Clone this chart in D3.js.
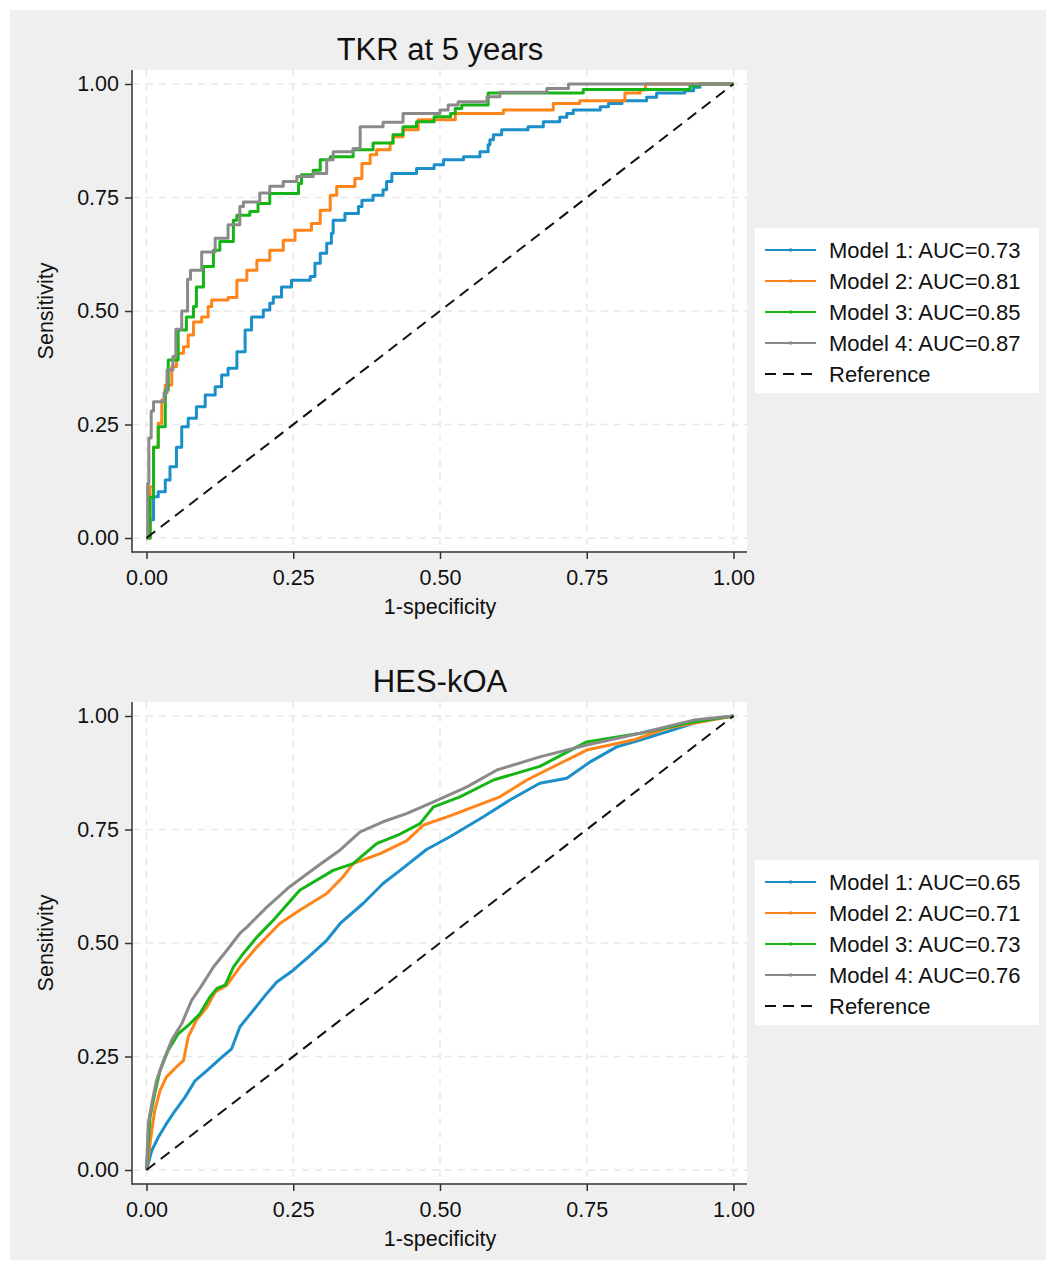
<!DOCTYPE html>
<html>
<head>
<meta charset="utf-8">
<script src="https://cdn.jsdelivr.net/npm/d3@7"></script>
<style>
  body { margin: 0; background: #fff; }
  svg { display: block; font-family: "Liberation Sans", Arial, sans-serif; }
</style>
</head>
<body>
<svg width="1056" height="1269"></svg>
<script>
// ---- data: [1-specificity, sensitivity] ----
const ticks = [0, 0.25, 0.5, 0.75, 1];
const modelNames = ["Model 1", "Model 2", "Model 3", "Model 4"];
const aucTkr = [0.73, 0.81, 0.85, 0.87];
const aucHes = [0.65, 0.71, 0.73, 0.76];

const tkrM1 = [[0,0],[0.006,0.04],[0.012,0.091],[0.02,0.102],[0.032,0.128],[0.04,0.157],[0.051,0.2],[0.06,0.245],[0.071,0.264],[0.085,0.289],[0.1,0.315],[0.117,0.333],[0.128,0.359],[0.139,0.374],[0.154,0.41],[0.168,0.458],[0.179,0.487],[0.199,0.502],[0.21,0.517],[0.216,0.531],[0.23,0.553],[0.247,0.568],[0.279,0.576],[0.287,0.605],[0.296,0.627],[0.307,0.649],[0.315,0.671],[0.318,0.70],[0.338,0.715],[0.361,0.73],[0.367,0.744],[0.386,0.755],[0.403,0.767],[0.409,0.785],[0.418,0.803],[0.46,0.814],[0.49,0.822],[0.506,0.833],[0.54,0.84],[0.568,0.851],[0.582,0.866],[0.585,0.877],[0.591,0.888],[0.605,0.899],[0.65,0.906],[0.676,0.917],[0.704,0.927],[0.716,0.935],[0.727,0.943],[0.773,0.95],[0.787,0.957],[0.81,0.963],[0.852,0.971],[0.869,0.98],[0.917,0.985],[0.932,0.993],[0.943,1],[1,1]];
const tkrM2 = [[0,0],[0.006,0.113],[0.012,0.2],[0.02,0.253],[0.026,0.304],[0.032,0.337],[0.043,0.377],[0.051,0.407],[0.063,0.421],[0.071,0.447],[0.08,0.476],[0.094,0.487],[0.105,0.51],[0.111,0.524],[0.139,0.53],[0.154,0.568],[0.171,0.59],[0.188,0.612],[0.21,0.634],[0.233,0.656],[0.253,0.678],[0.281,0.693],[0.296,0.722],[0.313,0.755],[0.324,0.774],[0.355,0.792],[0.367,0.825],[0.381,0.844],[0.392,0.855],[0.415,0.87],[0.42,0.884],[0.437,0.899],[0.463,0.921],[0.526,0.935],[0.608,0.943],[0.693,0.957],[0.738,0.963],[0.815,0.98],[0.841,0.987],[0.85,1],[1,1]];
const tkrM3 = [[0,0],[0.006,0.09],[0.012,0.2],[0.02,0.245],[0.032,0.326],[0.037,0.392],[0.054,0.458],[0.068,0.487],[0.08,0.51],[0.085,0.553],[0.097,0.598],[0.114,0.634],[0.125,0.653],[0.148,0.70],[0.154,0.711],[0.176,0.719],[0.19,0.737],[0.21,0.759],[0.259,0.781],[0.264,0.80],[0.284,0.81],[0.296,0.833],[0.313,0.84],[0.352,0.855],[0.386,0.87],[0.42,0.888],[0.437,0.906],[0.46,0.917],[0.49,0.928],[0.518,0.935],[0.526,0.946],[0.537,0.954],[0.582,0.98],[0.744,0.988],[0.926,0.996],[0.94,1],[1,1]];
const tkrM4 = [[0,0],[0.002,0.12],[0.004,0.22],[0.008,0.28],[0.012,0.30],[0.03,0.32],[0.035,0.37],[0.045,0.40],[0.05,0.46],[0.06,0.50],[0.07,0.57],[0.075,0.59],[0.094,0.63],[0.117,0.66],[0.139,0.69],[0.159,0.73],[0.165,0.74],[0.193,0.76],[0.21,0.775],[0.233,0.785],[0.256,0.796],[0.284,0.803],[0.307,0.833],[0.318,0.851],[0.352,0.858],[0.364,0.906],[0.403,0.916],[0.437,0.935],[0.5,0.943],[0.514,0.954],[0.531,0.961],[0.58,0.972],[0.602,0.982],[0.682,0.99],[0.719,1],[1,1]];

const hesM1 = [[0,0],[0.009,0.043],[0.02,0.072],[0.034,0.102],[0.049,0.131],[0.066,0.161],[0.083,0.197],[0.103,0.219],[0.125,0.245],[0.145,0.267],[0.159,0.315],[0.182,0.352],[0.205,0.389],[0.222,0.414],[0.25,0.44],[0.279,0.473],[0.307,0.506],[0.33,0.543],[0.369,0.587],[0.403,0.631],[0.432,0.66],[0.477,0.706],[0.517,0.734],[0.574,0.778],[0.619,0.815],[0.67,0.852],[0.716,0.863],[0.756,0.899],[0.801,0.932],[0.841,0.947],[0.886,0.965],[0.932,0.984],[0.971,0.995],[1,1]];
const hesM2 = [[0,0],[0.003,0.028],[0.009,0.087],[0.014,0.131],[0.023,0.175],[0.034,0.205],[0.051,0.227],[0.063,0.241],[0.071,0.293],[0.085,0.33],[0.103,0.359],[0.117,0.392],[0.137,0.407],[0.159,0.447],[0.188,0.491],[0.227,0.543],[0.261,0.572],[0.307,0.609],[0.335,0.646],[0.352,0.675],[0.398,0.697],[0.443,0.725],[0.472,0.76],[0.517,0.78],[0.602,0.822],[0.648,0.859],[0.699,0.892],[0.75,0.925],[0.829,0.947],[0.886,0.973],[0.943,0.987],[1,1]];
const hesM3 = [[0,0],[0.003,0.058],[0.006,0.116],[0.014,0.168],[0.023,0.219],[0.037,0.264],[0.054,0.30],[0.074,0.322],[0.091,0.344],[0.108,0.381],[0.12,0.40],[0.134,0.407],[0.148,0.447],[0.165,0.477],[0.188,0.513],[0.216,0.55],[0.261,0.616],[0.318,0.66],[0.352,0.675],[0.392,0.719],[0.432,0.74],[0.466,0.763],[0.489,0.80],[0.534,0.822],[0.591,0.859],[0.67,0.889],[0.75,0.943],[0.841,0.962],[0.932,0.987],[1,1]];
const hesM4 = [[0,0],[0.003,0.102],[0.009,0.146],[0.017,0.197],[0.029,0.241],[0.043,0.286],[0.06,0.322],[0.077,0.374],[0.091,0.40],[0.114,0.447],[0.137,0.484],[0.159,0.521],[0.171,0.535],[0.205,0.579],[0.244,0.624],[0.29,0.668],[0.33,0.705],[0.364,0.745],[0.403,0.767],[0.443,0.785],[0.489,0.811],[0.546,0.844],[0.597,0.881],[0.67,0.91],[0.75,0.936],[0.841,0.962],[0.932,0.991],[1,1]];

const colors = ["#1b8fc9", "#ff8419", "#16b516", "#8a8a8a"];

const svg = d3.select("svg");

// outer grey frame
svg.append("rect")
  .attr("x", 10).attr("y", 10)
  .attr("width", 1036).attr("height", 1250)
  .attr("fill", "#efefef");

const x = d3.scaleLinear().domain([0, 1]).range([146.5, 733.5]);
const y = d3.scaleLinear().domain([0, 1]).range([538, 84]);
const fmt = d3.format(".2f");

function drawPanel(offsetY, title, series, aucs, curve) {
  const g = svg.append("g").attr("transform", "translate(0," + offsetY + ")");

  // plot region
  g.append("rect")
    .attr("x", 133).attr("y", 70)
    .attr("width", 614).attr("height", 481)
    .attr("fill", "#fff");

  // dashed grid
  g.append("g").selectAll("line.gx").data(ticks).join("line")
    .attr("x1", d => x(d)).attr("x2", d => x(d))
    .attr("y1", 70).attr("y2", 551)
    .attr("stroke", "#e8e8e8").attr("stroke-width", 1.5)
    .attr("stroke-dasharray", "7,6");
  g.append("g").selectAll("line.gy").data(ticks).join("line")
    .attr("x1", 133).attr("x2", 747)
    .attr("y1", d => y(d)).attr("y2", d => y(d))
    .attr("stroke", "#e8e8e8").attr("stroke-width", 1.5)
    .attr("stroke-dasharray", "7,6");

  // curves
  const line = d3.line()
    .x(d => x(d[0]))
    .y(d => y(d[1]))
    .curve(curve);

  series.forEach((s, i) => {
    g.append("path")
      .datum(s)
      .attr("fill", "none")
      .attr("stroke", colors[i])
      .attr("stroke-width", 3)
      .attr("stroke-linejoin", "round")
      .attr("d", line);
  });

  // reference diagonal
  g.append("path")
    .datum([[0, 0], [1, 1]])
    .attr("fill", "none")
    .attr("stroke", "#111")
    .attr("stroke-width", 2)
    .attr("stroke-dasharray", "11,7")
    .attr("d", d3.line().x(d => x(d[0])).y(d => y(d[1])));

  // axes
  const ax = g.append("g")
    .attr("transform", "translate(0,552)")
    .call(d3.axisBottom(x).tickValues(ticks).tickFormat(fmt).tickSize(7).tickSizeOuter(0).tickPadding(11));
  const ay = g.append("g")
    .attr("transform", "translate(132,0)")
    .call(d3.axisLeft(y).tickValues(ticks).tickFormat(fmt).tickSize(7).tickSizeOuter(0).tickPadding(6));

  [ax, ay].forEach(a => {
    a.select(".domain").remove();
    a.selectAll(".tick line").attr("stroke", "#333").attr("stroke-width", 1.5);
    a.selectAll(".tick text")
      .attr("fill", "#111")
      .style("font-size", "21.5px")
      .style("font-family", "'Liberation Sans', Arial, sans-serif");
  });

  g.append("line")
    .attr("x1", 132).attr("x2", 132).attr("y1", 70).attr("y2", 552.75)
    .attr("stroke", "#333").attr("stroke-width", 1.5);
  g.append("line")
    .attr("x1", 132).attr("x2", 747).attr("y1", 552).attr("y2", 552)
    .attr("stroke", "#333").attr("stroke-width", 1.5);

  // titles
  g.append("text")
    .attr("x", 440).attr("y", 60)
    .attr("text-anchor", "middle")
    .attr("fill", "#111")
    .style("font-size", "31px")
    .text(title);

  g.append("text")
    .attr("x", 440).attr("y", 614)
    .attr("text-anchor", "middle")
    .attr("fill", "#111")
    .style("font-size", "21.5px")
    .text("1-specificity");

  g.append("text")
    .attr("transform", "translate(53," + 311 + ") rotate(-90)")
    .attr("text-anchor", "middle")
    .attr("fill", "#111")
    .style("font-size", "21.5px")
    .text("Sensitivity");

  // legend
  const lg = g.append("g");
  lg.append("rect")
    .attr("x", 755).attr("y", 228)
    .attr("width", 284).attr("height", 165)
    .attr("fill", "#fff");

  const entries = modelNames.map((m, i) => ({label: m + ": AUC=" + fmt(aucs[i]), color: colors[i], dash: null}))
    .concat([{label: "Reference", color: "#111", dash: "11,7"}]);

  entries.forEach((e, i) => {
    const by = 257.5 + i * 31;
    lg.append("line")
      .attr("x1", 765).attr("x2", 816)
      .attr("y1", by - 7.5).attr("y2", by - 7.5)
      .attr("stroke", e.color)
      .attr("stroke-width", 2)
      .attr("stroke-dasharray", e.dash);
    if (!e.dash) {
      lg.append("rect")
        .attr("x", 789).attr("y", by - 9)
        .attr("width", 3).attr("height", 3)
        .attr("fill", e.color);
    }
    lg.append("text")
      .attr("x", 829).attr("y", by)
      .attr("fill", "#111")
      .style("font-size", "22px")
      .text(e.label);
  });
}

drawPanel(0, "TKR at 5 years", [tkrM1, tkrM2, tkrM3, tkrM4], aucTkr, d3.curveStepAfter);
drawPanel(632, "HES-kOA", [hesM1, hesM2, hesM3, hesM4], aucHes, d3.curveLinear);
</script>
</body>
</html>
